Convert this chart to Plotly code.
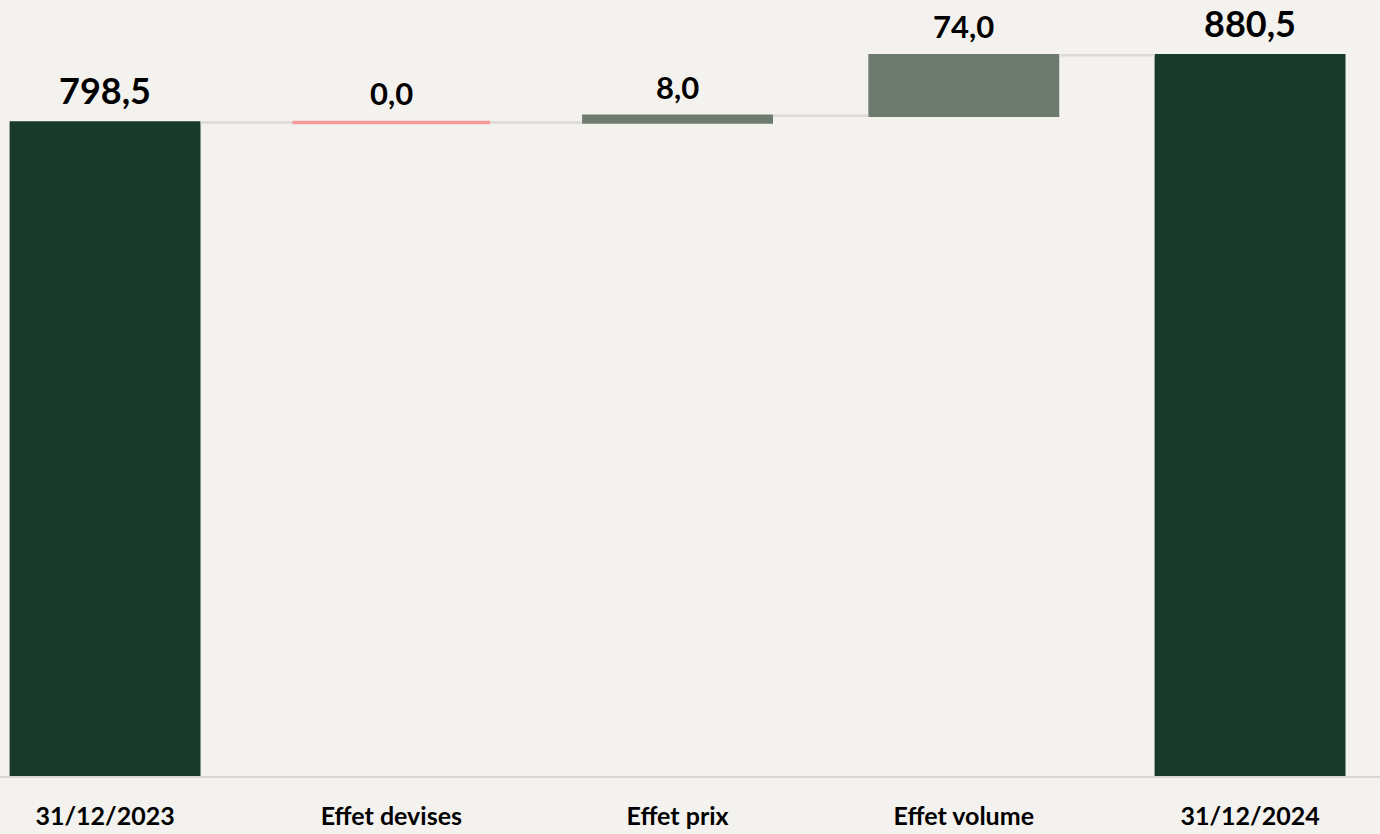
import plotly.graph_objects as go

CATEGORIES = ["31/12/2023", "Effet devises", "Effet prix", "Effet volume", "31/12/2024"]
MEASURES = ["absolute", "relative", "relative", "relative", "total"]
VALUES = [798.5, 0.0, 8.0, 74.0, 880.5]

COLORS = {
    "bg": "#F4F2EE",
    "total": "#183A2A",
    "up": "#6C7B6E",
    "down": "#F79A9A",
    "connector": "#DCDAD6",
    "axis": "#D9D7D3",
}
FONT = "Lato, Open Sans, sans-serif"
BAR_WIDTH = 0.667

x = list(range(len(CATEGORIES)))

# running totals -> label positions (top of each bar)
tops = []
cum = 0.0
for m, v in zip(MEASURES, VALUES):
    if m == "absolute":
        start, cum = 0.0, v
    elif m == "total":
        start = 0.0
    else:
        start, cum = cum, cum + v
    tops.append(max(start, cum) if m == "relative" else cum)

fig = go.Figure()
fig.add_trace(
    go.Waterfall(
        x=x,
        y=VALUES,
        measure=MEASURES,
        width=BAR_WIDTH,
        increasing=dict(marker=dict(color=COLORS["up"])),
        decreasing=dict(marker=dict(color=COLORS["down"])),
        totals=dict(marker=dict(color=COLORS["total"])),
        connector=dict(line=dict(color=COLORS["connector"], width=2.5)),
        textposition="none",
        hoverinfo="skip",
        showlegend=False,
    )
)

# zero-sized steps still show as a thin line
for i, (m, v) in enumerate(zip(MEASURES, VALUES)):
    if m == "relative" and v == 0:
        fig.add_trace(
            go.Scatter(
                x=[i - 0.345, i + 0.345],
                y=[tops[i], tops[i]],
                mode="lines",
                line=dict(color=COLORS["down"], width=3.5),
                hoverinfo="skip",
                showlegend=False,
            )
        )

for i, (m, v) in enumerate(zip(MEASURES, VALUES)):
    big = m != "relative"
    fig.add_annotation(
        x=i,
        y=tops[i],
        text=f"{v:.1f}".replace(".", ","),
        showarrow=False,
        yanchor="bottom",
        yshift=8,
        font=dict(family=FONT, size=36 if big else 31, color="#000000", weight="bold"),
    )

fig.update_layout(
    width=1380,
    height=834,
    margin=dict(l=0, r=0, t=0, b=58),
    paper_bgcolor=COLORS["bg"],
    plot_bgcolor=COLORS["bg"],
    font=dict(family=FONT, color="#000000"),
)
fig.update_xaxes(
    range=[-0.367, 4.454],
    tickvals=x,
    ticktext=CATEGORIES,
    showgrid=False,
    zeroline=False,
    showline=True,
    linecolor=COLORS["axis"],
    linewidth=2,
    ticks="",
    ticklabelstandoff=17,
    tickfont=dict(family=FONT, size=25, color="#000000", weight="bold"),
)
fig.update_yaxes(range=[0, 948], visible=False, showgrid=False, zeroline=False)

fig.write_html(
    "out.html",
    config={"displayModeBar": False},
    post_script="document.body.style.margin='0';document.body.style.background='%s';" % COLORS["bg"],
)
